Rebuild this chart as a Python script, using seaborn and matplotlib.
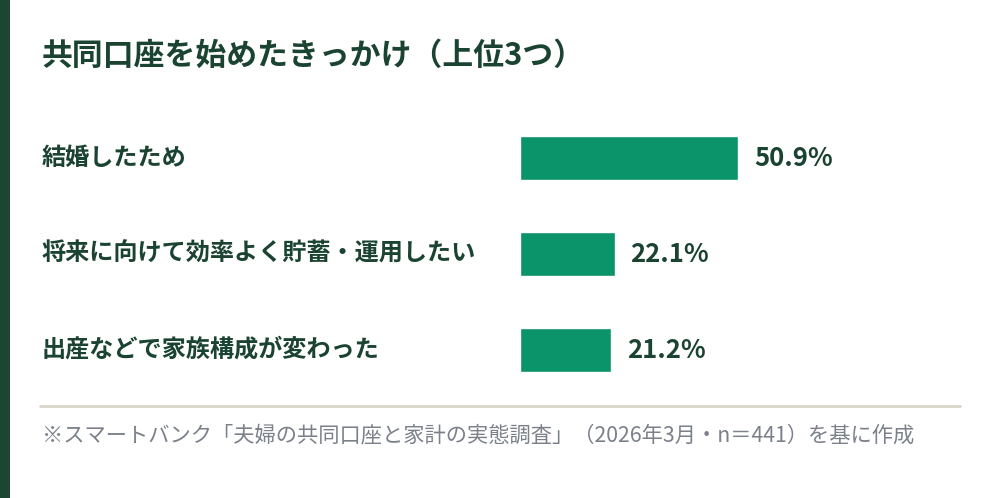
import matplotlib
matplotlib.use("Agg")
import matplotlib.pyplot as plt
import seaborn as sns
import pandas as pd
from matplotlib.transforms import blended_transform_factory

categories = ["結婚したため", "将来に向けて効率よく貯蓄・運用したい", "出産などで家族構成が変わった"]
values = [50.9, 22.1, 21.2]
value_labels = ["50.9%", "22.1%", "21.2%"]
title = "共同口座を始めたきっかけ（上位3つ）"
footnote = "※スマートバンク「夫婦の共同口座と家計の実態調査」（2026年3月・n＝441）を基に作成"

sns.set_theme(style="white")
plt.rcParams['font.family'] = ['Noto Sans CJK JP', 'DejaVu Sans']

DARK = "#1b4332"
BAR = "#0b9369"
GRAY = "#7b808a"

W, H = 1000, 498
fig = plt.figure(figsize=(10, 4.98), dpi=100)
fig.patch.set_facecolor("white")

# left stripe
fig.add_artist(plt.Rectangle((0, 0), 10 / W, 1, transform=fig.transFigure,
                             color="#1c4532", lw=0))

ax = fig.add_axes([520 / W, 1 - 398 / H, 428 / W, 288 / H])
df = pd.DataFrame({"cat": categories, "val": values})
sns.barplot(data=df, x="val", y="cat", orient="h", color=BAR, width=44 / 96,
            ax=ax, saturation=1)
ax.set_xlim(0, 100)
ax.set_ylim(2.5, -0.5)
ax.axis("off")

for i, (v, lab) in enumerate(zip(values, value_labels)):
    ax.annotate(lab, xy=(v, i), xytext=(11.5, 0), textcoords="offset points",
                ha="left", va="center", fontsize=18.5, color=DARK,
                fontweight="bold")

tr = blended_transform_factory(fig.transFigure, ax.transData)
for i, c in enumerate(categories):
    ax.text(42 / W, i, c, transform=tr, ha="left", va="center", fontsize=17.4,
            color=DARK, fontweight="bold")

fig.text(42 / W, 1 - 56 / H, title, ha="left", va="center", fontsize=22.2,
         color=DARK, fontweight="bold")

fig.add_artist(plt.Line2D([40 / W, 960 / W], [1 - 406 / H, 1 - 406 / H],
                          transform=fig.transFigure, color="#d9d5c9", lw=2))
fig.text(42 / W, 1 - 435 / H, footnote, ha="left", va="center", fontsize=15.3,
         color=GRAY)

fig.savefig("out.png", dpi=100, facecolor="white")
